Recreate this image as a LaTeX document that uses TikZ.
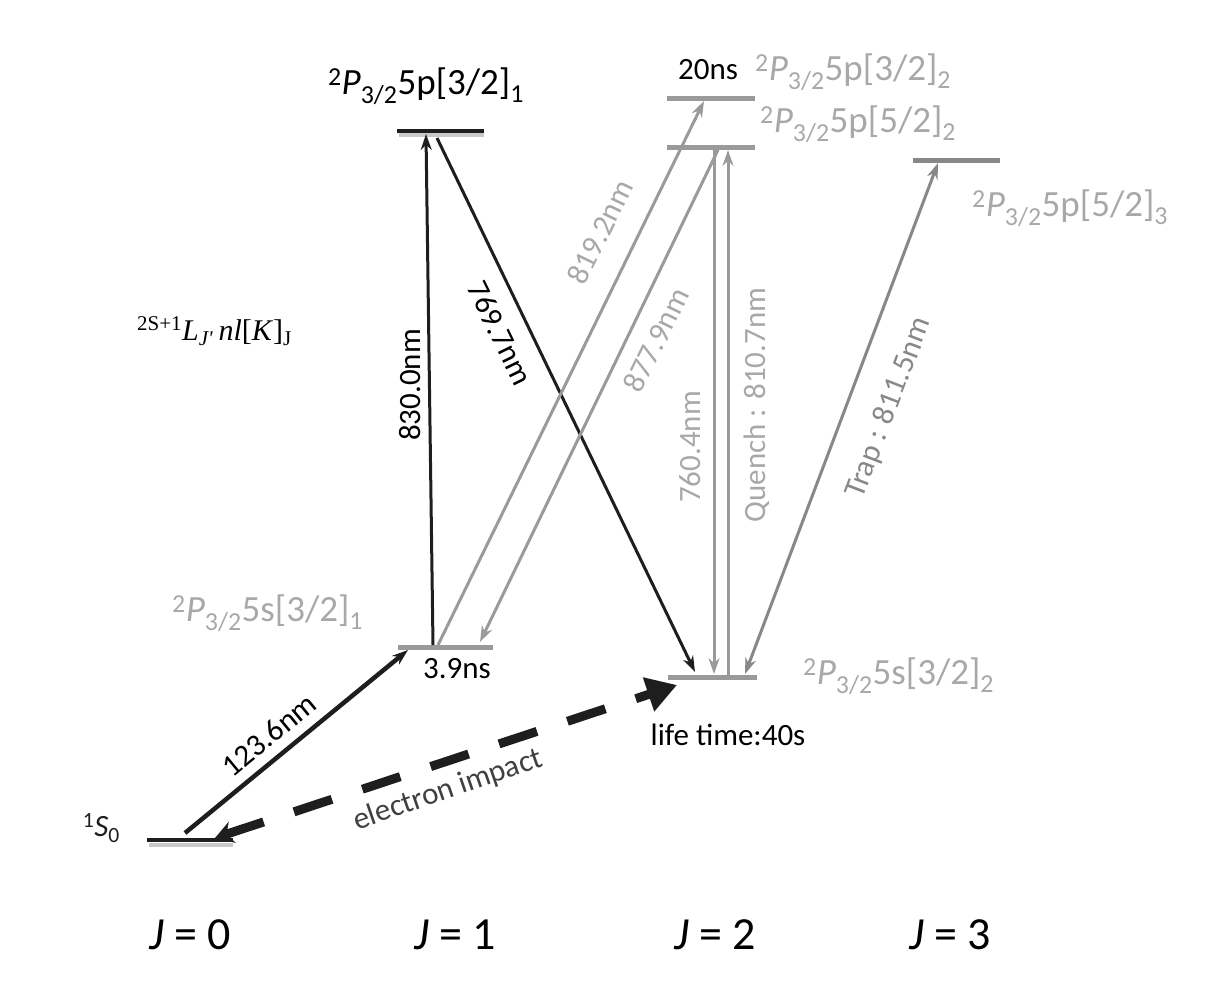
\documentclass[tikz,border=0pt]{standalone}
\usepackage{fontspec}
\setmainfont{Carlito}
\newfontfamily\timesfont{Liberation Serif}
\usetikzlibrary{arrows.meta}
\definecolor{lvgrey}{HTML}{9A9A9A}
\definecolor{txgrey}{HTML}{A8A8A8}
\definecolor{trapgrey}{HTML}{888888}
\definecolor{shadowgrey}{HTML}{C8C8C8}
\definecolor{darkline}{HTML}{1E1E1E}
\newcommand{\lvlabel}[3]{\textsuperscript{2}\textit{P}\textsubscript{3/2}5#1[#2]\textsubscript{#3}}
\begin{document}
\begin{tikzpicture}[x=1pt,y=-1pt,
  levelblack/.style={line width=4.5pt,darkline},
  levelgrey/.style={line width=5pt,lvgrey},
  lshadow/.style={line width=4pt,shadowgrey},
  arrblack/.style={line width=3pt,darkline,-{Stealth[length=16pt,width=11pt]}},
  arrgrey/.style={line width=3pt,lvgrey,-{Stealth[length=16pt,width=11pt]}},
  lab/.style={font=\fontsize{31}{36}\selectfont,inner sep=0pt},
  lvl/.style={font=\fontsize{37}{42}\selectfont,inner sep=0pt},
  jlab/.style={font=\fontsize{46}{52}\selectfont,inner sep=0pt}]
\useasboundingbox (0,0) rectangle (1218,988);
% level lines
\draw[lshadow] (149,845) -- (233,845);
\draw[levelblack] (147,840) -- (233,840);
\draw[lshadow] (399,135) -- (484,135);
\draw[levelblack] (397,131) -- (484,131);
\draw[levelgrey] (398,647) -- (493,647);
\draw[levelgrey] (667,98) -- (755,98);
\draw[levelgrey] (667,147) -- (755,147);
\draw[levelgrey,trapgrey] (913,160) -- (1000,160);
\draw[levelgrey] (668,677) -- (757,677);
% endpoints
\coordinate (g1) at (185,833);
\coordinate (a1) at (408,650);
\coordinate (a2) at (433,645);
\coordinate (b1) at (426,134);
\coordinate (b2) at (437,138);
\coordinate (m1) at (695,672);
\coordinate (a3) at (438,645);
\coordinate (c1) at (704,101);
\coordinate (d1) at (718,150);
\coordinate (a4) at (480,642);
\coordinate (d2) at (714,150);
\coordinate (m2) at (714,674);
\coordinate (m3) at (728,675);
\coordinate (d3) at (728,150);
\coordinate (m4) at (745,674);
\coordinate (e1) at (938,163);
\coordinate (m5) at (677,685);
\coordinate (g2) at (215,838);
% arrows
\draw[arrblack,line width=4.5pt] (g1) -- (a1);
\draw[arrblack] (a2) -- (b1);
\draw[arrblack] (b2) -- (m1);
\draw[arrgrey] (a3) -- (c1);
\draw[arrgrey] (d1) -- (a4);
\draw[arrgrey] (d2) -- (m2);
\draw[arrgrey] (m3) -- (d3);
\draw[arrgrey,trapgrey,{Stealth[length=16pt,width=11pt]}-{Stealth[length=16pt,width=11pt]}] (m4) -- (e1);
\draw[line width=9pt,darkline,dash pattern=on 40pt off 32pt,{Stealth[length=18pt,width=22pt]}-{Triangle[length=30pt,width=34pt]}] (g2) -- (m5);
% level labels
\node[lvl,anchor=center] (tb) at (426,86) {\lvlabel{p}{3/2}{1}};
\node[lab] (t20) at (708,70) {20ns};
\node[lvl,txgrey,anchor=west] (tc) at (755,72) {\lvlabel{p}{3/2}{2}};
\node[lvl,txgrey,anchor=west] (td) at (760,124) {\lvlabel{p}{5/2}{2}};
\node[lvl,txgrey,anchor=west] (te) at (972,208) {\lvlabel{p}{5/2}{3}};
\node[lvl,txgrey,anchor=west] (ta) at (172,613) {\lvlabel{s}{3/2}{1}};
\node[lab] (t39) at (457,669) {3.9ns};
\node[lvl,txgrey,anchor=west] (tm) at (803,676) {\lvlabel{s}{3/2}{2}};
\node[lab] (tlife) at (728,735) {life time:40s};
\node[lab,darkline,anchor=east] (tg) at (120,828) {\textsuperscript{1}\textit{S}\textsubscript{0}};
\node[inner sep=0pt,anchor=base east,font=\timesfont\fontsize{30}{34}\selectfont] (tnot) at (292,340) {\textsuperscript{2S+1}\textit{L}\textsubscript{\textit{J'}}\,\textit{nl}[\textit{K}]\textsubscript{J}};
% transition labels
\node[lab,rotate=39.5] (l1236) at (269,735) {123.6nm};
\node[lab,rotate=90] (l830) at (410,385) {830.0nm};
\node[lab,rotate=-64] (l769) at (500,333) {769.7nm};
\node[lab,txgrey,rotate=64] (l819) at (600,232) {819.2nm};
\node[lab,txgrey,rotate=64] (l877) at (656,340) {877.9nm};
\node[lab,txgrey,rotate=90] (l760) at (690,447) {760.4nm};
\node[lab,txgrey,rotate=90] (lq) at (757,405) {Quench : 810.7nm};
\node[lab,trapgrey,rotate=69] (ltrap) at (889,408) {Trap : 811.5nm};
\node[lab,rotate=19,black!75] (lei) at (448,790) {electron impact};
% J labels
\node[jlab] (j0) at (190,935) {\textit{J} = 0};
\node[jlab] (j1) at (455,935) {\textit{J} = 1};
\node[jlab] (j2) at (715,935) {\textit{J} = 2};
\node[jlab] (j3) at (950,935) {\textit{J} = 3};
\end{tikzpicture}
\end{document}
